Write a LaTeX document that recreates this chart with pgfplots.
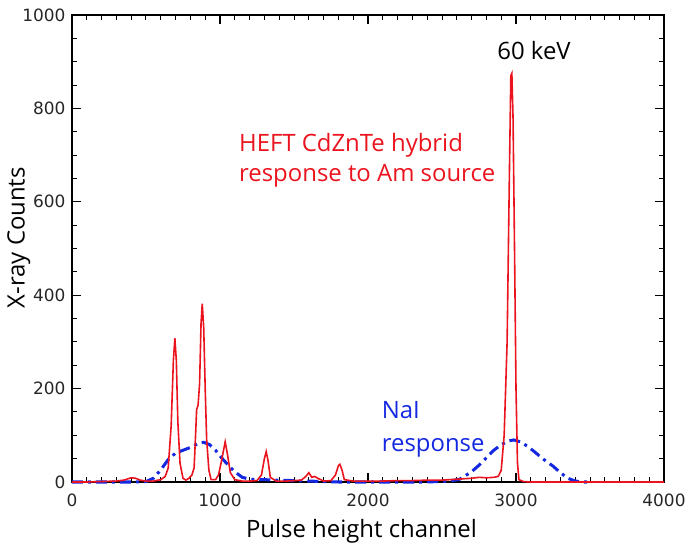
\documentclass[border=0pt]{standalone}
\usepackage{pgfplots}
\pgfplotsset{compat=1.18}
\usepackage{fontspec}
\setmainfont{Open Sans}
\newfontfamily\tickfont{DejaVu Sans}
\definecolor{heft}{RGB}{235,20,30}
\definecolor{nai}{RGB}{20,40,225}

\begin{document}
\begin{tikzpicture}
\begin{axis}[
  scale only axis,
  width=592bp, height=467bp,
  xmin=0, xmax=4000, ymin=0, ymax=1000,
  xtick={0,1000,2000,3000,4000},
  ytick={0,200,400,600,800,1000},
  minor x tick num=9, minor y tick num=3,
  tick align=inside,
  tickwidth=9bp, subtickwidth=5bp,
  axis line style={line width=1.2bp},
  major tick style={black, line width=1.1bp},
  minor tick style={black, line width=1bp},
  tick label style={font=\tickfont\fontsize{17}{17}\selectfont, text=black!85},
  xticklabel style={yshift=-8bp},
  yticklabel style={xshift=-3bp},
  /pgf/number format/assume math mode=true,
  /pgf/number format/1000 sep={},
  xlabel={Pulse height channel},
  ylabel={X-ray Counts},
  label style={font=\fontsize{24}{26}\selectfont},
  xlabel style={at={(axis description cs:0.489,0)}, anchor=base, yshift=-55bp},
  ylabel style={at={(axis description cs:-0.09,0.523)}, anchor=center},
  clip=false,
]
% NaI response
\addplot[nai, line width=3bp, dash pattern=on 11bp off 5bp on 3bp off 5bp] coordinates {
  (0,0) (200,0) (400,0) (500,1) (550,8) (600,26) (650,48) (700,62) (750,68)
  (800,74) (850,82) (890,85) (930,80) (970,68) (1010,52) (1050,38) (1100,22)
  (1150,10) (1200,6) (1300,5) (1400,4) (1500,3) (1600,2) (1700,1) (1800,0)
  (2000,0) (2400,0) (2550,2) (2620,6) (2700,22) (2750,36) (2800,52) (2850,68)
  (2900,80) (2950,88) (2985,90) (3030,86) (3080,76) (3120,66) (3180,50)
  (3250,34) (3300,20) (3350,8) (3400,2) (3450,0) (3480,0)
};
% HEFT CdZnTe hybrid
\addplot[heft, line width=1.6bp] coordinates {
  (0,0) (100,0) (200,1) (300,2) (350,4) (400,9) (430,8) (460,4) (500,2)
  (550,2) (600,5) (630,12) (650,30) (670,120) (685,260) (695,308) (705,260)
  (715,130) (730,40) (750,8) (770,4) (790,8) (810,15) (825,30) (835,100)
  (842,155) (852,165) (862,210) (872,340) (880,382) (890,330) (900,200)
  (910,90) (925,25) (940,5) (970,5) (990,15) (1010,45) (1035,86) (1050,60)
  (1070,20) (1100,5) (1150,2) (1200,2) (1250,3) (1280,15) (1300,50)
  (1312,65) (1325,45) (1340,10) (1380,2) (1450,2) (1500,3) (1550,4)
  (1580,12) (1600,20) (1620,10) (1640,12) (1660,8) (1700,2) (1750,3)
  (1780,15) (1800,35) (1810,38) (1825,25) (1840,5) (1900,2) (2000,2)
  (2100,2) (2200,3) (2300,3) (2400,4) (2500,4) (2600,6) (2700,8) (2750,10)
  (2800,9) (2850,10) (2880,12) (2900,25) (2920,100) (2940,300) (2955,650)
  (2965,870) (2972,875) (2980,780) (2990,500) (3000,200) (3010,40)
  (3020,5) (3050,1) (3100,0) (3500,0) (4000,0)
};
\node[font=\fontsize{24}{26}\selectfont, black, anchor=base] at (axis cs:3122,904) {60 keV};
\node[font=\fontsize{24}{26}\selectfont, heft, anchor=base west, inner sep=0pt]
  at (axis cs:1128,707) {HEFT CdZnTe hybrid};
\node[font=\fontsize{24}{26}\selectfont, heft, anchor=base west, inner sep=0pt]
  at (axis cs:1128,643) {response to Am source};
\node[font=\fontsize{24}{26}\selectfont, nai, anchor=base west, inner sep=0pt]
  at (axis cs:2092,135) {NaI};
\node[font=\fontsize{24}{26}\selectfont, nai, anchor=base west, inner sep=0pt]
  at (axis cs:2092,65) {response};
\end{axis}
\pgfresetboundingbox
\path[use as bounding box] (-72bp,-65bp) rectangle (613bp,482bp);
\end{tikzpicture}
\end{document}
